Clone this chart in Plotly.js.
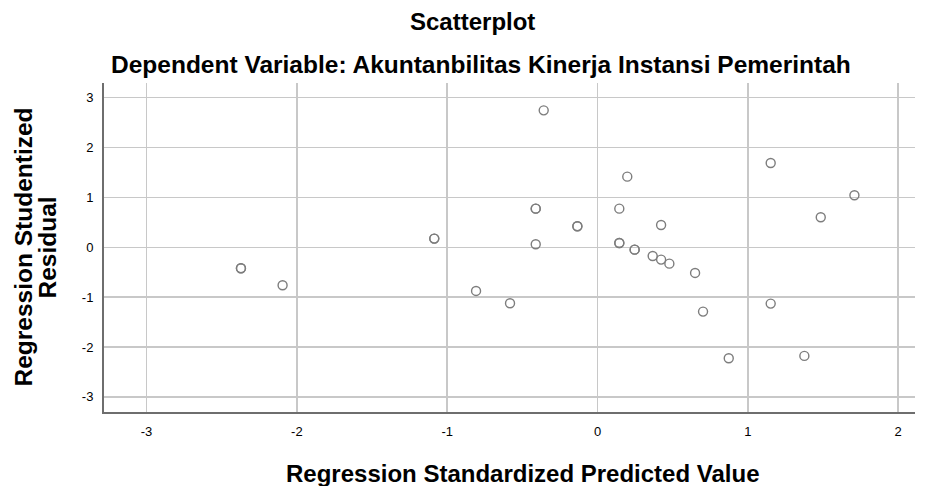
<!DOCTYPE html>
<html>
<head>
<meta charset="utf-8">
<script src="https://cdn.plot.ly/plotly-3.0.1.min.js"></script>
<style>html,body{margin:0;padding:0;background:#fff;}#chart{width:928px;height:486px;}</style>
</head>
<body>
<div id="chart"></div>
<script>
// Regression Standardized Predicted Value (x) and Studentized Residual (y)
var predicted = [-0.358, 0.198, -0.411, -0.411, 0.145, -0.134, -0.134, -1.086, -1.086, -0.411, 0.145, 0.145, 0.247, 0.247, 1.152, 1.709, 1.485, 0.423, 0.367, 0.423, 0.478, 0.649, 0.702, 1.152, 0.873, 1.376, -0.808, -0.582, -2.372, -2.372, -2.095];
var residual  = [2.745, 1.415, 0.774, 0.774, 0.774, 0.420, 0.420, 0.173, 0.173, 0.060, 0.086, 0.086, -0.048, -0.048, 1.690, 1.042, 0.601, 0.447, -0.175, -0.248, -0.329, -0.515, -1.290, -1.130, -2.225, -2.178, -0.876, -1.122, -0.421, -0.421, -0.762];
var xTicks = [-3, -2, -1, 0, 1, 2];
var yTicks = [-3, -2, -1, 0, 1, 2, 3];

var trace = {
  x: predicted, y: residual, type: 'scatter', mode: 'markers',
  marker: {symbol: 'circle-open', size: 9, color: '#7d7d7d', line: {width: 1.4, color: '#7d7d7d'}},
  hoverinfo: 'x+y'
};

var F = 'Liberation Sans, Arial, sans-serif';
function ann(text, size, opts) {
  var a = {text: text, xref: 'paper', yref: 'paper', showarrow: false,
           xanchor: 'center', yanchor: 'middle', font: {size: size, family: F, color: '#000'}};
  for (var k in opts) a[k] = opts[k];
  return a;
}

var layout = {
  width: 928, height: 486,
  margin: {l: 104, r: 13, t: 83, b: 74},
  paper_bgcolor: '#ffffff', plot_bgcolor: '#ffffff',
  showlegend: false,
  font: {family: F, color: '#000000'},
  xaxis: {
    range: [-3.283, 2.112], tickvals: xTicks, ticktext: xTicks.map(String),
    showgrid: true, gridcolor: '#c8c8c8', gridwidth: 1.5, zeroline: false,
    showline: true, linecolor: '#6e6e6e', linewidth: 2,
    ticks: 'outside', ticklen: 6, tickcolor: 'rgba(0,0,0,0)',
    tickfont: {size: 13, color: '#000'}, fixedrange: true
  },
  yaxis: {
    range: [-3.303, 3.293], tickvals: yTicks, ticktext: yTicks.map(String),
    showgrid: true, gridcolor: '#c8c8c8', gridwidth: 1.5, zeroline: false,
    showline: true, linecolor: '#6e6e6e', linewidth: 2,
    ticks: 'outside', ticklen: 6, tickcolor: 'rgba(0,0,0,0)',
    tickfont: {size: 13, color: '#000'}, fixedrange: true
  },
  annotations: [
    ann('<b>Scatterplot</b>', 24, {x: 0, xshift: 368, y: 1, yshift: 62}),
    ann('<b>Dependent Variable: Akuntanbilitas Kinerja Instansi Pemerintah</b>', 24.5, {x: 0, xshift: 377, y: 1, yshift: 19}),
    ann('<b>Regression Standardized Predicted Value</b>', 24, {x: 0, xshift: 418, y: 0, yshift: -61}),
    ann('<b>Regression Studentized</b>', 24.5, {x: 0, xshift: -81, y: 0.5, textangle: -90}),
    ann('<b>Residual</b>', 24.5, {x: 0, xshift: -57, y: 0.5, textangle: -90})
  ]
};

Plotly.newPlot('chart', [trace], layout, {displayModeBar: false, staticPlot: true});
</script>
</body>
</html>
